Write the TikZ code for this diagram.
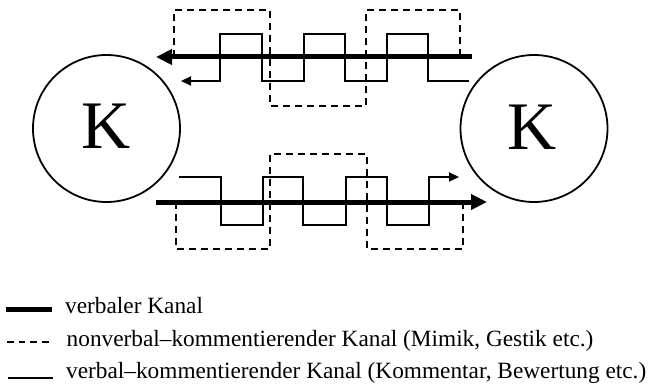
\documentclass[tikz,border=0pt]{standalone}
\usepackage{fontspec}
\setmainfont{Liberation Serif}
\usetikzlibrary{arrows.meta}

\tikzset{
  verbal/.style={line width=5pt},
  nonverbal/.style={line width=1.7pt, dash pattern=on 7pt off 5pt},
  comment/.style={line width=2pt},
  person/.style={circle, draw, line width=1.8pt, minimum size=147pt, inner sep=0pt},
  personlabel/.style={font=\fontsize{68}{70}\selectfont, inner sep=0pt},
  legendtext/.style={anchor=base west, inner sep=0pt, font=\fontsize{23.3}{28}\selectfont},
  bigtip/.style={-{Triangle[length=16pt,width=15pt]}},
  smalltip/.style={-{Triangle[length=10pt,width=9pt]}}
}

\begin{document}
\begin{tikzpicture}[x=1pt, y=-1pt]
  \useasboundingbox (0,0) rectangle (653,385);

  % the two communicators
  \node[person] (left) at (106.5,128.5) {};
  \node[person] (right) at (534,128.5) {};
  \node[personlabel] (leftK) at (106,126) {K};
  \node[personlabel] (rightK) at (532,127.5) {K};

  % upper channel: right to left
  \coordinate (tvStart) at (472,57);
  \coordinate (tvEnd) at (156,57);
  \draw[verbal, bigtip] (tvStart) -- (tvEnd);

  \coordinate (tcStart) at (469,81);
  \coordinate (tcEnd) at (181,81);
  \draw[comment, smalltip, line join=miter] (tcStart) -- (428,81) -- (428,34) -- (387,34) -- (387,81)
    -- (345,81) -- (345,34) -- (304,34) -- (304,81) -- (262,81) -- (262,34)
    -- (220,34) -- (220,81) -- (tcEnd);

  \draw[nonverbal] (174,57) -- (174,10) -- (270,10) -- (270,106) -- (366,106)
    -- (366,10) -- (460,10) -- (460,57);

  % lower channel: left to right
  \coordinate (bvStart) at (156,202);
  \coordinate (bvEnd) at (487,202);
  \draw[verbal, bigtip] (bvStart) -- (bvEnd);

  \coordinate (bcStart) at (179,177);
  \coordinate (bcEnd) at (459,177);
  \draw[comment, smalltip, line join=miter] (bcStart) -- (221,177) -- (221,225) -- (263,225) -- (263,177)
    -- (303,177) -- (303,225) -- (346,225) -- (346,177) -- (387,177) -- (387,225)
    -- (429,225) -- (429,177) -- (bcEnd);

  \draw[nonverbal] (176,202) -- (176,249) -- (270,249) -- (270,154) -- (367,154)
    -- (367,249) -- (463,249) -- (463,202);

  % legend
  \draw[line width=4.7pt] (6,309.5) -- (52,309.5);
  \node[legendtext] (l1) at (65,313.5) {verbaler Kanal};

  \draw[line width=1.7pt, dash pattern=on 6.7pt off 5pt] (7,342) -- (50,342);
  \node[legendtext] (l2) at (66.5,346.5) {nonverbal–kommentierender Kanal (Mimik, Gestik etc.)};

  \draw[line width=2.2pt] (8,378) -- (53,378);
  \node[legendtext] (l3) at (66,378) {verbal–kommentierender Kanal (Kommentar, Bewertung etc.)};
\end{tikzpicture}
\end{document}
